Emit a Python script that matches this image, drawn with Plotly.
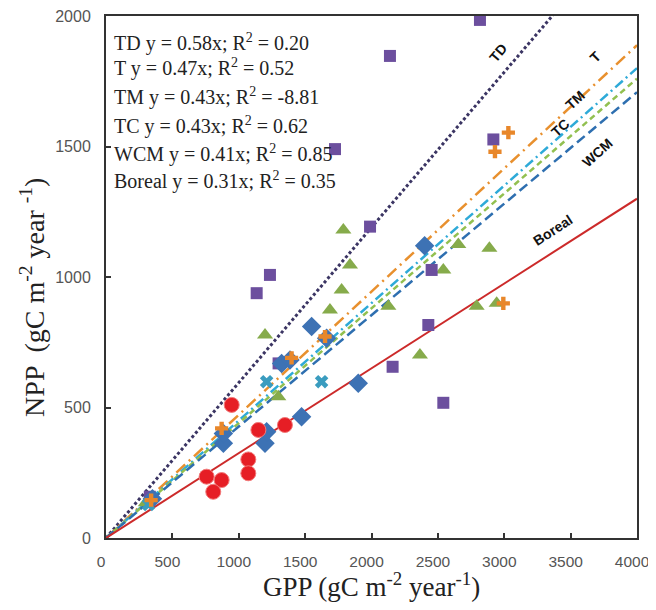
import plotly.graph_objects as go

# ---- data ----
boreal_gpp = [947, 1148, 1348, 758, 871, 808, 1072, 1072]
boreal_npp = [510, 414, 433, 235, 222, 177, 301, 248]

wcm_gpp = [1549, 1662, 1323, 1386, 1473, 1198, 1210, 884, 884, 1900, 2400, 350]
wcm_npp = [810, 765, 669, 682, 465, 363, 407, 363, 400, 593, 1120, 150]

td_gpp = [2817, 2139, 2918, 1725, 1989, 1235, 1135, 2453, 2428, 2159, 2541, 1300, 330]
td_npp = [1985, 1847, 1527, 1490, 1193, 1008, 938, 1027, 816, 656, 518, 669, 158]

tm_gpp = [1788, 1838, 1775, 1687, 1198, 1298, 2365, 2654, 2888, 2541, 2792, 2943, 2127, 300]
tm_npp = [1180, 1046, 950, 874, 778, 541, 701, 1125, 1110, 1027, 888, 899, 888, 135]

tc_gpp = [1210, 1624, 320]
tc_npp = [599, 599, 128]

t_gpp = [3031, 2930, 2993, 871, 1650, 1398, 340]
t_npp = [1553, 1480, 899, 420, 772, 690, 145]

line_names = ["TD", "T", "TC", "TM", "WCM", "Boreal"]
line_slopes = [0.595, 0.472, 0.450, 0.440, 0.427, 0.325]
gpp_extent = [0, 4000]

eq_labels = [
    "TD y = 0.58x; R<sup>2</sup> = 0.20",
    "T y = 0.47x; R<sup>2</sup> = 0.52",
    "TM y = 0.43x; R<sup>2</sup> = -8.81",
    "TC y = 0.43x; R<sup>2</sup> = 0.62",
    "WCM y = 0.41x; R<sup>2</sup> = 0.85",
    "Boreal y = 0.31x; R<sup>2</sup> = 0.35",
]

x_ticks = [0, 500, 1000, 1500, 2000, 2500, 3000, 3500, 4000]
y_ticks = [0, 500, 1000, 1500, 2000]

# ---- styles ----
line_styles = {
    "TD": dict(color="#3b3563", width=3, dash="3px,2.5px"),
    "T": dict(color="#e8902e", width=2.5, dash="12px,5px,2px,5px"),
    "TC": dict(color="#2eaad8", width=2.5, dash="10px,4px,2px,4px"),
    "TM": dict(color="#92c050", width=2.5, dash="6px,4px"),
    "WCM": dict(color="#2e6fb0", width=2.5, dash="10px,5px"),
    "Boreal": dict(color="#cc2a2a", width=2, dash="solid"),
}

fig = go.Figure()

for name, slope in zip(line_names, line_slopes):
    fig.add_trace(go.Scatter(
        x=gpp_extent, y=[slope * v for v in gpp_extent],
        mode="lines", line=line_styles[name], showlegend=False, hoverinfo="skip"))

def pts(x, y, symbol, color, size, lw=0, lc=None):
    fig.add_trace(go.Scatter(
        x=x, y=y, mode="markers", showlegend=False,
        marker=dict(symbol=symbol, color=color, size=size,
                    line=dict(width=lw, color=lc or color))))

pts(tm_gpp, tm_npp, "triangle-up", "#86ab4b", 14)
pts(td_gpp, td_npp, "square", "#6c4f9e", 12)
pts(wcm_gpp, wcm_npp, "diamond", "#3d72b4", 15)
pts(boreal_gpp, boreal_npp, "circle", "#e61e25", 15, 1, "#f27a7a")
pts(tc_gpp, tc_npp, "x", "#3a9cbf", 12)
pts(t_gpp, t_npp, "cross", "#e8872a", 11)

annotations = []
# equation box
eq_y = [1900, 1801, 1693, 1582, 1475, 1368]
for txt, yy in zip(eq_labels, eq_y):
    annotations.append(dict(x=45, y=yy, xref="x", yref="y", text=txt, showarrow=False,
                            xanchor="left", yanchor="middle",
                            font=dict(family="Liberation Serif", size=20, color="#222")))

# line labels
lab_pos = {
    "TD": (2953, 1858, -50),
    "T": (3684, 1843, -45),
    "TM": (3533, 1678, -42),
    "TC": (3420, 1571, -42),
    "WCM": (3699, 1475, -42),
    "Boreal": (3367, 1180, -33),
}
for name in line_names:
    xx, yy, ang = lab_pos[name]
    annotations.append(dict(x=xx, y=yy, xref="x", yref="y", text="<b>%s</b>" % name,
                            showarrow=False, textangle=ang,
                            font=dict(family="Liberation Sans", size=14, color="#111")))

# axis titles
annotations.append(dict(x=0.5, y=0, xref="paper", yref="paper", yshift=-47,
                        xanchor="center", yanchor="middle",
                        text="GPP (gC m<sup>-2</sup> year<sup>-1</sup>)", showarrow=False,
                        font=dict(family="Liberation Serif", size=27, color="#222")))
annotations.append(dict(x=0, y=0.46, xref="paper", yref="paper", xshift=-73,
                        xanchor="center", yanchor="middle",
                        text="NPP  (gC m<sup>-2</sup> year <sup>-1</sup>)", showarrow=False,
                        textangle=-90,
                        font=dict(family="Liberation Serif", size=28, color="#222")))

axis_common = dict(showgrid=False, zeroline=False, showline=True, mirror=True,
                   automargin=False, ticklabeloverflow="allow",
                   linecolor="#333", linewidth=2, ticks="inside", ticklen=5,
                   tickcolor="#333", tickwidth=1.5,
                   tickfont=dict(family="Liberation Sans", size=16, color="#555"))

# page body has an 8px margin, so the figure is sized to fit the window exactly
fig.update_layout(
    width=640, height=594,
    margin=dict(l=98, r=11, t=8, b=64),
    plot_bgcolor="white", paper_bgcolor="white",
    xaxis=dict(range=[0, 4000], tickvals=x_ticks, ticklabelstandoff=8,
               ticklabelshift=-5, **{**axis_common,
                                     "tickfont": dict(family="Liberation Sans", size=15.5, color="#555")}),
    yaxis=dict(range=[0, 2000], tickvals=y_ticks, ticklabelstandoff=10, **axis_common),
    annotations=annotations,
)

fig.write_html("out.html")
